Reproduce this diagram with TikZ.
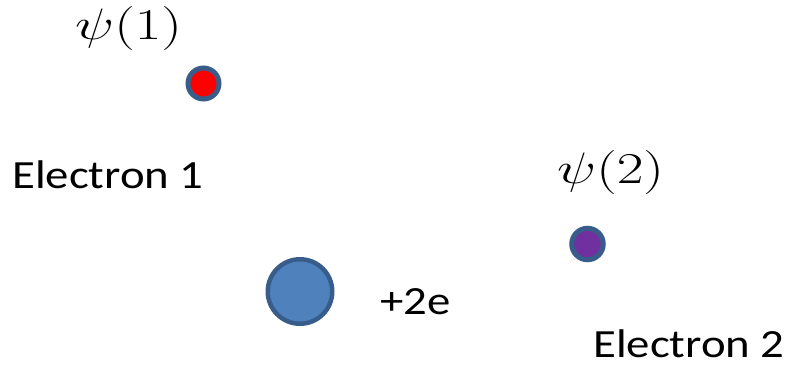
\RequirePackage{fix-cm}
\documentclass[tikz,border=0pt]{standalone}
\usepackage{fontspec}
\setmainfont{Carlito}
\usepackage{xcolor,tikz}
\usetikzlibrary{positioning}
\definecolor{rimblue}{HTML}{385D8A}
\definecolor{nucblue}{HTML}{4F81BD}
\definecolor{elpurple}{HTML}{7030A0}
\newcommand{\wide}[2][1.17]{\scalebox{#1}[1]{#2}}

\begin{document}
\begin{tikzpicture}[x=1pt,y=-1pt,
  particle/.style={circle,draw=rimblue,inner sep=0pt,line width=5pt},
  lbl/.style={anchor=base west,inner sep=0pt,font=\fontsize{40}{44}\selectfont},
  wf/.style={anchor=base west,inner sep=0pt,font=\fontsize{44}{48}\selectfont}]
\useasboundingbox (0,0) rectangle (800,368);
% electron 1
\node[particle,fill=red,minimum size=31pt] (e1) at (203.5,83.5) {};
\node[wf] (psi1) at (75,39) {\wide[1.32]{$\psi(1)$}};
\node[lbl] (lab1) at (12,188) {\wide{Electron 1}};
% nucleus
\node[particle,fill=nucblue,line width=4.5pt,minimum size=64.5pt] (nuc) at (300,291.5) {};
\node[lbl] (charge) at (380,314) {\wide{+2e}};
% electron 2
\node[particle,fill=elpurple,minimum size=31.5pt] (e2) at (587.5,244) {};
\node[wf] (psi2) at (557,183) {\wide[1.32]{$\psi(2)$}};
\node[lbl] (lab2) at (593,357) {\wide{Electron 2}};
\end{tikzpicture}
\end{document}
